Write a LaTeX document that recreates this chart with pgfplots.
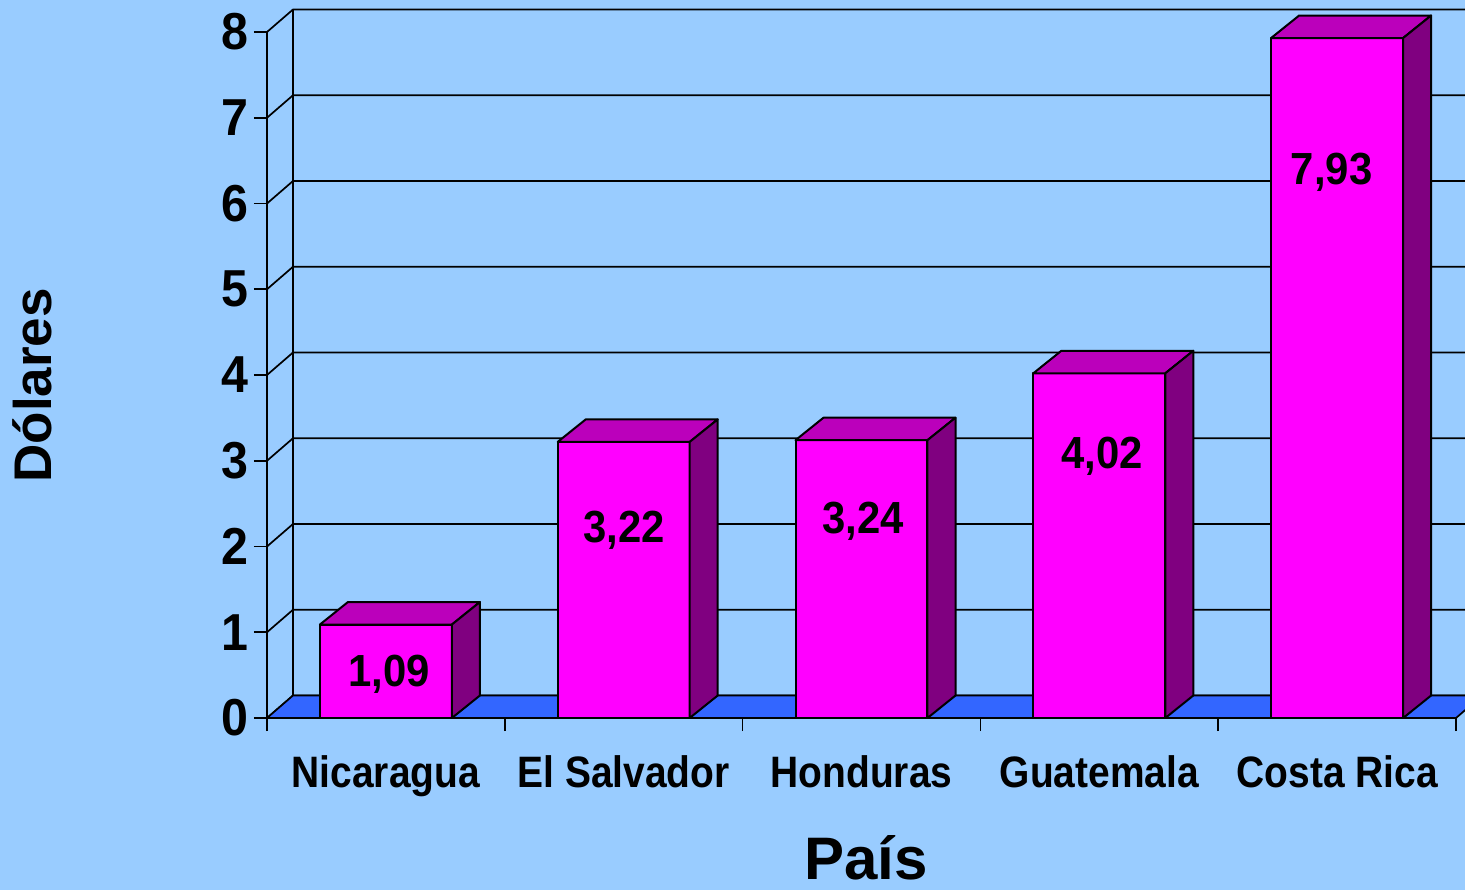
\documentclass[border=0pt]{standalone}
\usepackage{fontspec}
\setmainfont{Liberation Sans}
\newfontfamily\catfont{Liberation Sans}[FakeStretch=0.885]
\newfontfamily\numfont{Liberation Sans}[FakeStretch=0.93]
\usepackage{pgfplots}
\usepackage{pgfplotstable}
\pgfplotsset{compat=1.18}
\definecolor{bg}{HTML}{99CCFF}
\definecolor{barfront}{HTML}{FF00FF}
\definecolor{bartop}{HTML}{BB00BB}
\definecolor{barside}{HTML}{800080}
\definecolor{floorc}{HTML}{3366FF}

\pgfplotstableread{
i v
0 1.09
1 3.22
2 3.24
3 4.02
4 7.93
}\datatable

\def\dxw{0.1093}
\def\dyw{0.2624}
\def\dxb{0.1178}
\def\dyb{0.2624}
\def\hw{0.2775}

\begin{document}
\begin{tikzpicture}
\fill[bg] (-133.5pt,-86pt) rectangle (599pt,359pt);
\begin{axis}[
  at={(0pt,0pt)}, anchor=south west,
  scale only axis, width=594.5pt, height=343pt,
  xmin=0, xmax=5, ymin=0, ymax=8,
  clip=false, axis on top,
  axis x line*=bottom, axis y line*=left,
  axis line style={line width=0.85pt, black},
  tick align=outside, major tick length=6.5pt,
  tick style={line width=0.85pt, black},
  ytick={0,1,2,3,4,5,6,7,8}, yticklabels={0,1,2,3,4,5,6,7,8},
  yticklabel style={font=\numfont\bfseries\fontsize{26}{26}\selectfont, anchor=east, inner sep=0pt, xshift=-2.5pt},
  xtick={0,1,2,3,4,5}, xticklabels={},
  extra x ticks={0.5,1.5,2.5,3.5,4.5},
  extra x tick labels={Nicaragua, El Salvador, Honduras, Guatemala, Costa Rica},
  extra x tick style={major tick length=0pt, xticklabel style={font=\catfont\bfseries\fontsize{22}{22}\selectfont, anchor=base, inner sep=0pt, yshift=-34.5pt}},
  xlabel={País},
  xlabel style={font=\bfseries\fontsize{30}{30}\selectfont, at={(axis description cs:0.504,-0.236)}, anchor=base, inner sep=0pt},
  ylabel={Dólares},
  ylabel style={font=\bfseries\fontsize{26.5}{26.5}\selectfont, at={(axis description cs:-0.181,0.485)}, anchor=base, inner sep=0pt},
]
% back wall gridlines and side-wall diagonals
\pgfplotsinvokeforeach{0,...,8}{
  \pgfmathsetmacro\yy{#1+\dyw}
  \edef\tmp{\noexpand\addplot[black, line width=0.85pt, forget plot] coordinates {(0,#1) (\dxw,\yy) (5.3,\yy)};}
  \tmp
}
\addplot[black, line width=0.85pt, forget plot] coordinates {(0.1093,0.2624) (0.1093,8.2624)};
% floor
\addplot[fill=floorc, draw=black, line width=0.85pt, line join=round, forget plot] coordinates {(0,0) (5,0) (5.1093,0.2624) (0.1093,0.2624)} -- cycle;
% bars
\pgfplotsinvokeforeach{0,...,4}{
  \pgfplotstablegetelem{#1}{v}\of\datatable
  \let\vv\pgfplotsretval
  \pgfmathsetmacro\xl{#1+0.5-\hw}
  \pgfmathsetmacro\xr{#1+0.5+\hw}
  \pgfmathsetmacro\xlb{\xl+\dxb}
  \pgfmathsetmacro\xrb{\xr+\dxb}
  \pgfmathsetmacro\vt{\vv+\dyb}
  \edef\tmp{%
    \noexpand\addplot[fill=barfront, draw=black, line width=1pt, line join=round, forget plot] coordinates {(\xl,0) (\xr,0) (\xr,\vv) (\xl,\vv)} -- cycle;
    \noexpand\addplot[fill=bartop, draw=black, line width=1pt, line join=round, forget plot] coordinates {(\xl,\vv) (\xr,\vv) (\xrb,\vt) (\xlb,\vt)} -- cycle;
    \noexpand\addplot[fill=barside, draw=black, line width=1pt, line join=round, forget plot] coordinates {(\xr,0) (\xrb,\dyb) (\xrb,\vt) (\xr,\vv)} -- cycle;
  }%
  \tmp
}
% value labels
\begin{scope}[every node/.style={font=\numfont\bfseries\fontsize{22.5}{22.5}\selectfont, anchor=base, inner sep=0pt}]
\node at (axis cs:0.513,0.373) {1,09};
\node at (axis cs:1.503,2.041) {3,22};
\node at (axis cs:2.506,2.157) {3,24};
\node at (axis cs:3.511,2.915) {4,02};
\node at (axis cs:4.477,6.216) {7,93};
\end{scope}
\end{axis}
\pgfresetboundingbox
\path[use as bounding box] (-133.5pt,-86pt) rectangle (599pt,359pt);
\end{tikzpicture}
\end{document}
